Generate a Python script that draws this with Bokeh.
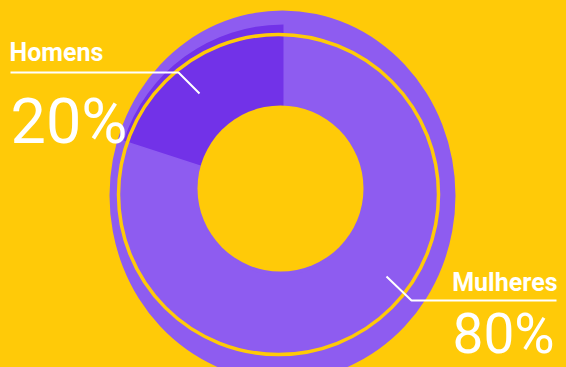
import math
from bokeh.plotting import figure
from bokeh.models import Range1d, ColumnDataSource
from bokeh.core.properties import value
from bokeh.embed import file_html
from bokeh.resources import INLINE

# ---- data ----
categories = ["Homens", "Mulheres"]
shares = [20, 80]
pct_labels = ["20%", "80%"]

# ---- styling ----
BG = "#FFCA08"
LIGHT = "#8E5CF0"
DARK = "#7232E8"

W, H = 566, 367
p = figure(width=W, height=H, output_backend="svg", toolbar_location=None,
           x_range=Range1d(0, W), y_range=Range1d(-H, 0),
           min_border=0, background_fill_color=BG, border_fill_color=BG,
           outline_line_color=None)
p.axis.visible = False
p.grid.visible = False

cx, cy = 280, -192  # page coords, y negated

# compute wedge angles from data (start at 12 o'clock, counter-clockwise)
total = sum(shares)
starts, ends = [], []
a = math.pi / 2
for s in shares:
    starts.append(a)
    a += 2 * math.pi * s / total
    ends.append(a)

# background blob
p.ellipse(x=[cx + 2], y=[cy - 3], width=346, height=370, fill_color=LIGHT, line_color=None)

# Mulheres (light) part
src_l = ColumnDataSource(dict(x=[cx], y=[cy], s=[starts[1]], e=[ends[1]]))
p.annular_wedge(x="x", y="y", inner_radius=83, outer_radius=160, start_angle="s", end_angle="e",
                fill_color=LIGHT, line_color=None, source=src_l)
# Homens (dark) part
src_d = ColumnDataSource(dict(x=[cx + 3], y=[cy], s=[starts[0]], e=[ends[0]]))
p.annular_wedge(x="x", y="y", inner_radius=83, outer_radius=168, start_angle="s", end_angle="e",
                fill_color=DARK, line_color=None, source=src_d)

# yellow ring
p.circle(x=[cx - 2], y=[cy - 2], radius=160, fill_color=None, line_color=BG, line_width=3.5)
# hole
p.circle(x=[cx], y=[cy + 4], radius=83, fill_color=BG, line_color=None)

# leader lines
p.line(x=[10, 178, 199], y=[-72, -72, -93], line_color="white", line_width=2)
p.line(x=[386, 411, 556], y=[-276, -300, -300], line_color="white", line_width=2)

# labels
p.text(x=[9], y=[-51.5], text=[categories[0]], text_font=value("Roboto"), text_font_style="bold",
       text_font_size="25px", text_color="white", text_baseline="alphabetic", text_align="left")
p.text(x=[10], y=[-121], text=[pct_labels[0]], text_font=value("Roboto"),
       text_font_size="63px", text_color="white", text_baseline="alphabetic", text_align="left")
p.text(x=[557], y=[-282], text=[categories[1]], text_font=value("Roboto"), text_font_style="bold",
       text_font_size="25px", text_color="white", text_baseline="alphabetic", text_align="right")
p.text(x=[452], y=[-333], text=[pct_labels[1]], text_font=value("Roboto"),
       text_font_size="55px", text_color="white", text_baseline="alphabetic", text_align="left")

template = """{% block preamble %}<style>html, body { background: #FFCA08; }</style>{% endblock %}"""
open("out.html", "w").write(file_html(p, INLINE, template=template))
